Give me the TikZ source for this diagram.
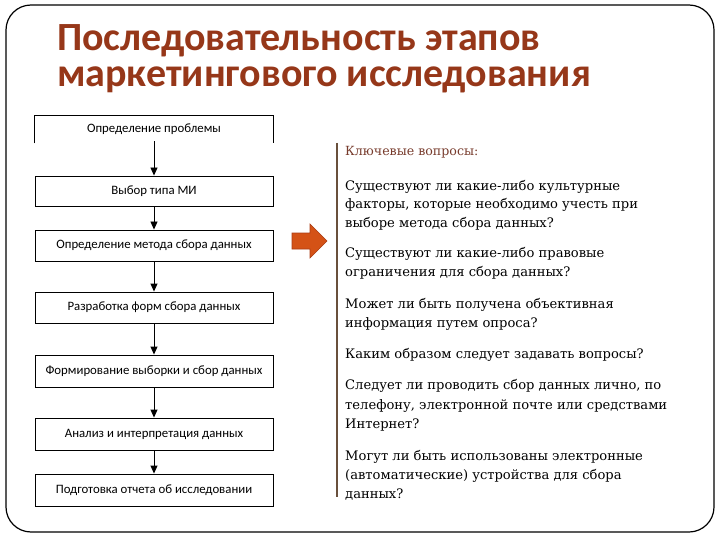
\documentclass[tikz,border=0pt]{standalone}
\usepackage{fontspec}
\setmainfont{Carlito}
\newfontfamily\serifq{DejaVu Serif}
\usetikzlibrary{arrows.meta}
\definecolor{titlecol}{RGB}{150,55,25}
\definecolor{headcol}{RGB}{120,60,45}
\definecolor{linecol}{RGB}{105,80,60}
\definecolor{arrfill}{RGB}{212,82,22}
\definecolor{arrdraw}{RGB}{170,60,20}
\tikzset{
  stepbox/.style={draw, line width=0.9pt, minimum width=238pt, inner sep=0pt, font=\fontsize{12.8}{14}\selectfont},
  flow/.style={-{Triangle[width=7pt,length=8pt]}, line width=0.9pt},
  qline/.style={anchor=base west, inner sep=0pt, font=\serifq\fontsize{13.1}{15}\selectfont},
  ttl/.style={anchor=base west, inner sep=0pt, align=left, text=titlecol, font=\bfseries\fontsize{40}{36}\selectfont}
}
\begin{document}
\begin{tikzpicture}[x=1pt,y=-1pt]
\useasboundingbox (0,0) rectangle (720,540);
\fill[white] (0,0) rectangle (720,540);
\draw[line width=1.2pt, rounded corners=25pt] (6,5) rectangle (714,532);
% title
\node[ttl] (t) at (57,87) {Последовательность этапов\\маркетингового исследования};
% flow boxes
\node[stepbox, draw=none, minimum height=27pt] (b1) at (154,129.5) {Определение проблемы};
\draw[line width=0.9pt] (b1.south west) -- (b1.north west) -- (b1.north east) -- (b1.south east);
\coordinate (b1s) at ([yshift=2pt]b1.south);
\node[stepbox, minimum height=30pt] (b2) at (154,191) {Выбор типа МИ};
\node[stepbox, minimum height=31pt] (b3) at (154,245.5) {Определение метода сбора данных};
\node[stepbox, minimum height=31pt] (b4) at (154,307.5) {Разработка форм сбора данных};
\node[stepbox, minimum height=32pt] (b5) at (154,371) {Формирование выборки и сбор данных};
\node[stepbox, minimum height=32pt] (b6) at (154,434) {Анализ и интерпретация данных};
\node[stepbox, minimum height=32pt] (b7) at (154,490) {Подготовка отчета об исследовании};
\draw[flow] (b1s) -- (b2.north);
\draw[flow] (b2) -- (b3);
\draw[flow] (b3) -- (b4);
\draw[flow] (b4) -- (b5);
\draw[flow] (b5) -- (b6);
\draw[flow] (b6) -- (b7);
% block arrow
\draw[fill=arrfill, draw=arrdraw, line width=0.6pt, line join=miter]
  (292,233) -- (310,233) -- (310,224) -- (327,241) -- (310,258) -- (310,249) -- (292,249) -- cycle;
% separator line
\coordinate (s1) at (337,143);
\coordinate (s2) at (337,497);
\draw[linecol, line width=1.2pt] (s1) -- (s2);
% questions
\node[qline, text=headcol, font=\serifq\fontsize{12.6}{14}\selectfont] (h) at (345,156) {Ключевые вопросы:};
\node[qline] (q1a) at (345,191) {Существуют ли какие-либо культурные};
\node[qline] (q1b) at (345,209) {факторы, которые необходимо учесть при};
\node[qline] (q1c) at (345,227) {выборе метода сбора данных?};
\node[qline] (q2a) at (345,258) {Существуют ли какие-либо правовые};
\node[qline] (q2b) at (345,276) {ограничения для сбора данных?};
\node[qline] (q3a) at (345,308) {Может ли быть получена объективная};
\node[qline] (q3b) at (345,327) {информация путем опроса?};
\node[qline] (q4a) at (345,358) {Каким образом следует задавать вопросы?};
\node[qline] (q5a) at (345,389) {Следует ли проводить сбор данных лично, по};
\node[qline] (q5b) at (345,409) {телефону, электронной почте или средствами};
\node[qline] (q5c) at (345,428) {Интернет?};
\node[qline] (q6a) at (345,460) {Могут ли быть использованы электронные};
\node[qline] (q6b) at (345,479) {(автоматические) устройства для сбора};
\node[qline] (q6c) at (345,498) {данных?};
\end{tikzpicture}
\end{document}
